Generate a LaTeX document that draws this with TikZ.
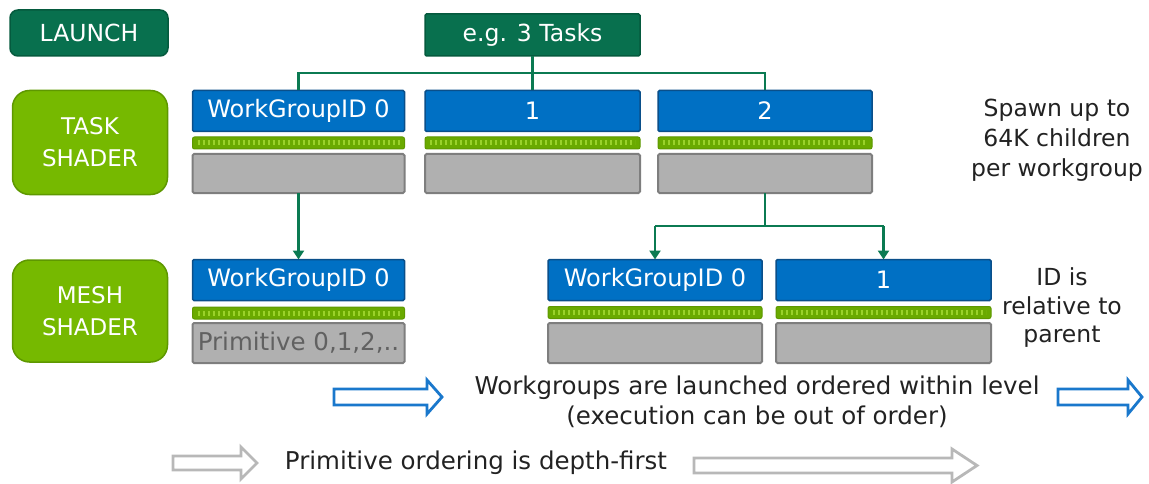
\documentclass[tikz,border=0pt]{standalone}
\usepackage{fontspec}
\setmainfont{DejaVu Sans}
\usetikzlibrary{arrows.meta}
\definecolor{dkgreen}{HTML}{08704E}
\definecolor{dkgreenb}{HTML}{055A3E}
\definecolor{lime}{HTML}{76B900}
\definecolor{limeb}{HTML}{5E9800}
\definecolor{stripc}{HTML}{6AAA00}
\definecolor{dotc}{HTML}{9AD22A}
\definecolor{wgblue}{HTML}{0070C4}
\definecolor{wgblueb}{HTML}{0A4F8A}
\definecolor{grayf}{HTML}{B0B0B0}
\definecolor{grayb}{HTML}{7E7E7E}
\definecolor{conncol}{HTML}{0B7A52}
\definecolor{arrblue}{HTML}{1A78CC}
\definecolor{arrgray}{HTML}{B8B8B8}
\definecolor{txt}{HTML}{222222}
\begin{document}
\begin{tikzpicture}[x=1pt,y=-1pt,
  every node/.style={inner sep=0pt, outer sep=0pt},
  lbl/.style={rectangle, rounded corners=8pt, fill=dkgreen, draw=dkgreenb, line width=1.5pt, text=white, font=\fontsize{23.5}{28}\selectfont},
  shader/.style={rectangle, rounded corners=17pt, fill=lime, draw=limeb, line width=1.5pt, text=white, align=center, font=\fontsize{23}{32}\selectfont, minimum width=155pt, minimum height=104pt},
  wg/.style={rectangle, rounded corners=1.5pt, fill=wgblue, draw=wgblueb, line width=1.5pt, text=white, font=\fontsize{24}{28}\selectfont, minimum height=41pt},
  strip/.style={rectangle, rounded corners=2pt, fill=stripc, draw=limeb, line width=1pt, minimum height=12pt},
  prim/.style={rectangle, rounded corners=1.5pt, fill=grayf, draw=grayb, line width=2pt, minimum height=40pt, text=black!62, font=\fontsize{24.5}{28}\selectfont},
  conn/.style={draw=conncol, line width=2.5pt},
  tip/.style={-{Triangle[width=11pt,length=9pt]}},
  dots/.style={draw=dotc, line width=5pt, dash pattern=on 2pt off 3pt},
  note/.style={text=txt, align=center, font=\fontsize{23.5}{30}\selectfont},
  bnote/.style={text=txt, align=center, font=\fontsize{24.5}{30}\selectfont},
  bluearr/.style={draw=arrblue, line width=2.8pt, fill=white, line join=miter},
  grayarr/.style={draw=arrgray, line width=2.8pt, fill=white, line join=miter}
]
\useasboundingbox (0,0) rectangle (1149,484);

% left labels
\node[lbl, minimum width=158pt, minimum height=46pt] (launch) at (89,33) {LAUNCH};
\node[shader] (task) at (90,142.5) {TASK\\SHADER};
\node[shader, minimum height=102pt] (mesh) at (90,311) {MESH\\SHADER};

% launch node
\node[lbl, rounded corners=1.5pt, minimum width=215pt, minimum height=42pt] (eg) at (532.5,35) {e.g. 3 Tasks};

% task level
\node[wg, minimum width=212pt] (t0) at (298.5,111) {WorkGroupID 0};
\node[wg, minimum width=215pt] (t1) at (532.5,111) {1};
\node[wg, minimum width=214pt] (t2) at (765,111) {2};
\foreach \n/\x/\w in {t0/298.5/212, t1/532.5/215, t2/765/214}{
  \node[strip, minimum width=\w pt] (\n s) at (\x,143) {};
  \draw[dots] ([xshift=5pt]\n s.west) -- ([xshift=-5pt]\n s.east);
  \node[prim, minimum width=\w pt, minimum height=39pt] (\n g) at (\x,173.5) {};
}

% mesh level
\node[wg, minimum width=212pt] (m0) at (298.5,280) {WorkGroupID 0};
\node[wg, minimum width=214pt] (ma) at (655,280) {WorkGroupID 0};
\node[wg, minimum width=215pt] (mb) at (883.5,280) {1};
\node[strip, minimum width=212pt] (m0s) at (298.5,313) {};
\draw[dots] ([xshift=5pt]m0s.west) -- ([xshift=-5pt]m0s.east);
\node[prim, minimum width=212pt] (m0g) at (298.5,343) {Primitive 0,1,2,..};
\foreach \n/\x/\w in {ma/655/214, mb/883.5/215}{
  \node[strip, minimum width=\w pt] (\n s) at (\x,312.5) {};
  \draw[dots] ([xshift=5pt]\n s.west) -- ([xshift=-5pt]\n s.east);
  \node[prim, minimum width=\w pt] (\n g) at (\x,343) {};
}

% connectors
\coordinate (bus) at (532.5,73);
\draw[conn] (eg.south) -- (t1.north);
\draw[conn] (t0.north) -- (t0.north |- bus) -- (t2.north |- bus) -- (t2.north);
\draw[conn, tip] (t0g.south) -- (m0.north);
\coordinate (bus2) at (765,226);
\draw[conn] (t2g.south) -- (bus2);
\draw[conn] (ma.north |- bus2) -- (mb.north |- bus2);
\draw[conn, tip] (ma.north |- bus2) -- (ma.north);
\draw[conn, tip] (mb.north |- bus2) -- (mb.north);

% notes
\node[note] (spawn) at (1057,140) {Spawn up to\\64K children\\per workgroup};
\node[note, font=\fontsize{23.5}{28.5}\selectfont] (idrel) at (1062,308) {ID is\\relative to\\parent};
\node[bnote] (order) at (757,402) {Workgroups are launched ordered within level\\(execution can be out of order)};
\node[bnote] (depth) at (476,463) {Primitive ordering is depth-first};

% outline arrows
\draw[bluearr] (334,389) -- (427,389) -- (427,380) -- (442,397) -- (427,414) -- (427,405) -- (334,405) -- cycle;
\draw[bluearr] (1058,389) -- (1128,389) -- (1128,380) -- (1142,397) -- (1128,414) -- (1128,405) -- (1058,405) -- cycle;
\draw[grayarr] (173,456) -- (241,456) -- (241,447) -- (257,463) -- (241,479) -- (241,470) -- (173,470) -- cycle;
\draw[grayarr] (694,458) -- (952,458) -- (952,449) -- (977,465.5) -- (952,482) -- (952,473) -- (694,473) -- cycle;
\end{tikzpicture}
\end{document}
